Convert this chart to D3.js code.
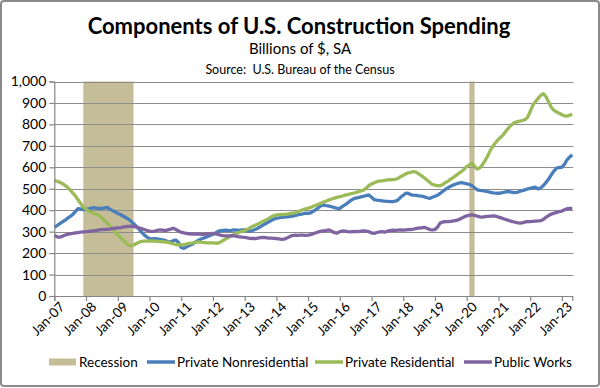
<!DOCTYPE html>
<html lang="en">
<head>
<meta charset="utf-8">
<script src="https://d3js.org/d3.v7.min.js"></script>
<style>
  body { margin: 0; background: #fff; }
  svg { font-family: Lato, "Open Sans", sans-serif; }
</style>
</head>
<body>
<svg width="600" height="388"></svg>
<script>
// monthly values, Jan 2007 .. May 2023, billions of $ (SA)
var startMonth = new Date(2007, 0, 1);

var nonres = [
  320, 328, 336, 345, 352, 362, 370, 380, 393, 407, 406, 402,
  404, 406, 410, 412, 410, 409, 408, 411, 413, 405, 398, 392,
  385, 380, 373, 366, 358, 349, 338, 326, 312, 298, 285, 275,
  267, 266, 267, 266, 264, 262, 258, 254, 252, 258, 261, 250,
  226, 222, 228, 235, 240, 248, 255, 262, 268, 272, 277, 282,
  288, 294, 301, 305, 306, 307, 305, 306, 308, 307, 306, 308,
  308, 305, 302, 305, 310, 316, 323, 331, 338, 345, 352, 358,
  363, 364, 366, 368, 369, 370, 372, 375, 378, 380, 383, 386,
  385, 388, 395, 403, 412, 422, 424, 421, 419, 416, 412, 409,
  408, 418, 425, 434, 444, 452, 456, 459, 462, 465, 468, 471,
  460, 449, 447, 446, 444, 442, 441, 440, 440, 442, 448, 460,
  470, 480, 478, 472, 470, 469, 467, 466, 462, 458, 455, 460,
  465, 470, 478, 488, 497, 505, 512, 518, 522, 526, 528, 526,
  523, 520, 515, 505, 495, 492, 491, 489, 486, 483, 481, 480,
  479, 481, 483, 486, 487, 484, 482, 483, 487, 491, 495, 499,
  502, 505, 507, 499, 503, 515, 528, 545, 565, 582, 596, 599,
  600, 615, 635, 648, 658
];

var resid = [
  538, 535, 531, 525, 517, 507, 495, 481, 466, 449, 431, 414,
  405, 396, 389, 384, 380, 374, 365, 352, 340, 327, 314, 300,
  284, 272, 261, 249, 238, 234, 238, 245, 250, 255, 256, 256,
  256, 257, 256, 255, 254, 253, 252, 250, 247, 243, 240, 239,
  238, 239, 242, 245, 247, 249, 251, 252, 250, 249, 248, 248,
  248, 246, 247, 252, 260, 267, 274, 281, 287, 292, 297, 302,
  305, 311, 318, 324, 330, 336, 342, 348, 354, 361, 368, 374,
  378, 379, 380, 381, 382, 384, 386, 388, 392, 397, 402, 406,
  409, 413, 418, 423, 428, 433, 438, 443, 448, 452, 456, 460,
  463, 466, 470, 473, 476, 479, 482, 486, 490, 494, 503, 515,
  522, 528, 533, 535, 537, 539, 541, 542, 543, 544, 548, 556,
  563, 570, 574, 577, 580, 577, 568, 560, 550, 541, 530, 520,
  517, 515, 514, 520, 528, 536, 545, 553, 562, 571, 580, 590,
  603, 611, 619, 605, 592, 598, 612, 632, 655, 680, 700, 716,
  731, 742, 754, 770, 786, 798, 807, 812, 815, 818, 822, 832,
  860, 890, 905, 920, 935, 943, 930, 905, 880, 866, 858, 852,
  845, 840, 839, 842, 848
];

var publicWorks = [
  283, 276, 274, 278, 283, 287, 290, 292, 294, 296, 298, 299,
  300, 301, 303, 305, 306, 308, 309, 310, 311, 312, 314, 316,
  318, 319, 321, 323, 325, 326, 324, 321, 318, 314, 310, 306,
  303, 301, 303, 306, 308, 307, 305, 308, 312, 316, 310, 303,
  297, 294, 292, 290, 289, 288, 289, 288, 287, 288, 290, 291,
  292, 290, 287, 283, 281, 280, 280, 281, 280, 278, 276, 274,
  273, 271, 269, 268, 268, 270, 272, 273, 272, 270, 270, 269,
  268, 266, 264, 265, 270, 276, 282, 284, 283, 284, 284, 283,
  284, 286, 290, 295, 299, 302, 304, 306, 308, 302, 295, 293,
  300, 303, 302, 300, 299, 300, 301, 300, 302, 303, 302, 300,
  294, 292, 296, 299, 300, 298, 302, 305, 307, 306, 307, 308,
  307, 308, 309, 310, 312, 315, 317, 318, 320, 316, 310, 308,
  310, 322, 340, 345, 347, 347, 348, 350, 352, 356, 362, 368,
  374, 377, 378, 376, 372, 369, 368, 370, 371, 372, 373, 372,
  368, 364, 360, 356, 352, 348, 345, 342, 340, 341, 345, 347,
  347, 348, 349, 350, 351, 357, 367, 375, 382, 386, 390, 393,
  396, 402, 407, 408, 409
];

// recession periods [start, end] as [year, month0]
var recessions = [[[2007, 11], [2009, 6]], [[2020, 1], [2020, 3]]];

var yTicks = [0, 100, 200, 300, 400, 500, 600, 700, 800, 900, 1000];
var xTickYears = d3.range(2007, 2024);

var series = [
  { name: "Private Nonresidential", values: nonres, color: "#4A7EBB" },
  { name: "Private Residential", values: resid, color: "#9BBB59" },
  { name: "Public Works", values: publicWorks, color: "#8064A2" }
];
var recessionColor = "#C4BD97";

var svg = d3.select("svg");

svg.append("rect")
   .attr("x", 1).attr("y", 1)
   .attr("width", 598).attr("height", 385)
   .attr("rx", 3)
   .attr("fill", "#fff")
   .attr("stroke", "#8a8a8a")
   .attr("stroke-width", 2);

var plotLeft = 54.3, plotRight = 572.3, plotTop = 81.5, plotBottom = 296;

function monthDate(i) { return d3.timeMonth.offset(startMonth, i); }

var x = d3.scaleTime()
    .domain([startMonth, monthDate(nonres.length - 1)])
    .range([plotLeft, plotRight]);
var y = d3.scaleLinear().domain([0, 1000]).range([plotBottom, plotTop]);

// titles
svg.append("text")
   .attr("x", 299).attr("y", 34)
   .attr("text-anchor", "middle")
   .attr("font-weight", "bold")
   .attr("font-size", "22px")
   .text("Components of U.S. Construction Spending");
svg.append("text")
   .attr("x", 300).attr("y", 54)
   .attr("text-anchor", "middle")
   .attr("font-size", "15px")
   .text("Billions of $, SA");
svg.append("text")
   .attr("x", 300).attr("y", 74)
   .attr("text-anchor", "middle")
   .attr("font-size", "12.5px")
   .style("white-space", "pre")
   .text("Source:  U.S. Bureau of the Census");

// recession bands
svg.append("g").selectAll("rect")
   .data(recessions)
   .enter().append("rect")
   .attr("x", function(d) { return x(new Date(d[0][0], d[0][1], 1)); })
   .attr("width", function(d) {
       return x(new Date(d[1][0], d[1][1], 1)) - x(new Date(d[0][0], d[0][1], 1));
   })
   .attr("y", y(1000))
   .attr("height", y(0) - y(1000))
   .attr("fill", recessionColor);

// gridlines
svg.append("g").selectAll("line")
   .data(yTicks.filter(function(d) { return d > 0; }))
   .enter().append("line")
   .attr("x1", plotLeft).attr("x2", plotRight + 1)
   .attr("y1", function(d) { return Math.round(y(d)) + 0.5; })
   .attr("y2", function(d) { return Math.round(y(d)) + 0.5; })
   .attr("stroke", "#8c8c8c")
   .attr("stroke-width", 1.2);

// lines
var line = d3.line()
    .x(function(d, i) { return x(monthDate(i)); })
    .y(function(d) { return y(d); });

svg.append("g").selectAll("path")
   .data(series)
   .enter().append("path")
   .attr("d", function(s) { return line(s.values); })
   .attr("fill", "none")
   .attr("stroke", function(s) { return s.color; })
   .attr("stroke-width", 3.3)
   .attr("stroke-linejoin", "round");

// axes
var yAxis = svg.append("g")
   .attr("transform", "translate(" + plotLeft + ",0)")
   .call(d3.axisLeft(y).tickValues(yTicks).tickSize(5).tickPadding(3)
         .tickFormat(d3.format(",")));
var xAxis = svg.append("g")
   .attr("transform", "translate(0," + plotBottom + ")")
   .call(d3.axisBottom(x)
         .tickValues(xTickYears.map(function(yr) { return new Date(yr, 0, 1); }))
         .tickSize(5)
         .tickFormat(d3.timeFormat("%b-%y")));

[yAxis, xAxis].forEach(function(a) {
  a.select(".domain").attr("stroke", "#868686").attr("stroke-width", 1.2);
  a.selectAll(".tick line").attr("stroke", "#868686").attr("stroke-width", 1.2);
  a.selectAll("text").attr("font-family", "Lato, sans-serif").attr("fill", "#000");
});
yAxis.selectAll("text").attr("font-size", "14px");
xAxis.selectAll("text")
   .attr("font-size", "13.5px")
   .attr("text-anchor", "end")
   .attr("transform", "translate(6,7) rotate(-45)")
   .attr("dy", "0.5em")
   .attr("y", 0)
   .attr("x", 0);

// legend
var legend = [
  { name: "Recession", color: recessionColor, box: true, x: 49 },
  { name: series[0].name, color: series[0].color, x: 147 },
  { name: series[1].name, color: series[1].color, x: 315 },
  { name: series[2].name, color: series[2].color, x: 464 }
];
var lg = svg.append("g").attr("transform", "translate(0,362)");
legend.forEach(function(l) {
  if (l.box) {
    lg.append("rect").attr("x", l.x).attr("y", -3.5).attr("width", 27).attr("height", 7)
      .attr("fill", l.color);
  } else {
    lg.append("line").attr("x1", l.x).attr("x2", l.x + 28).attr("y1", 0).attr("y2", 0)
      .attr("stroke", l.color).attr("stroke-width", 3.5);
  }
  lg.append("text").attr("x", l.x + 30).attr("y", 0).attr("dy", "0.35em")
    .attr("font-size", "13.5px").text(l.name);
});
</script>
</body>
</html>
